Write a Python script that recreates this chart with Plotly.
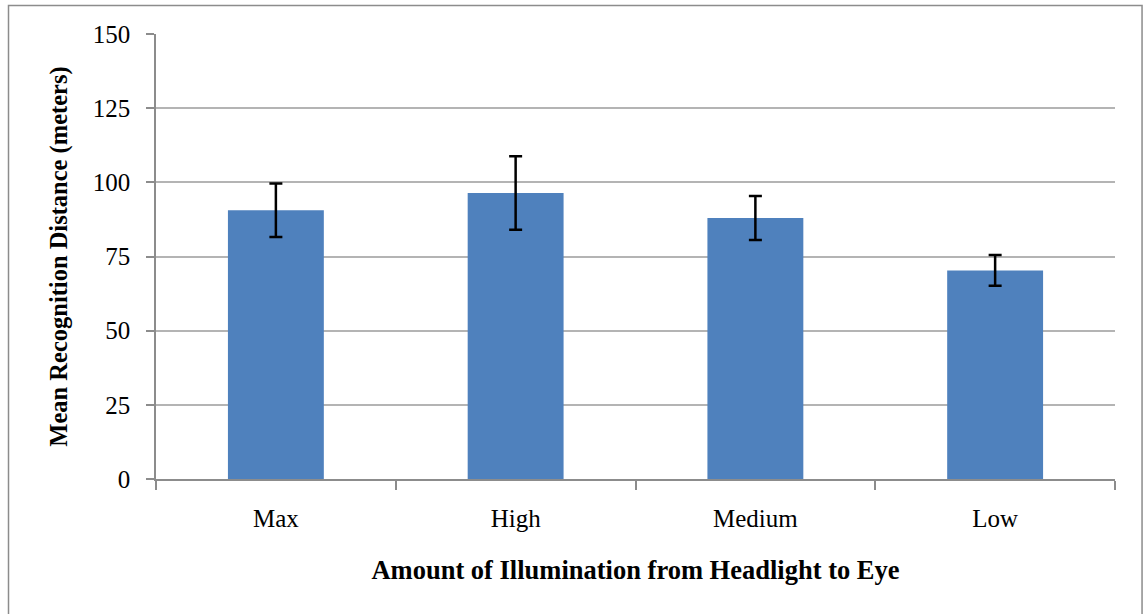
import plotly.graph_objects as go

categories = ["Max", "High", "Medium", "Low"]
means = [90.6, 96.4, 88.0, 70.3]
errors = [9.0, 12.4, 7.4, 5.2]
y_ticks = [0, 25, 50, 75, 100, 125, 150]

fig = go.Figure()
fig.add_trace(go.Bar(
    x=categories, y=means, width=0.4,
    marker=dict(color="#4F81BD", line=dict(width=0)),
    error_y=dict(type="data", array=errors, visible=True,
                 color="#000000", thickness=2.5, width=6.5),
    showlegend=False,
))

font_family = "Liberation Serif, Times New Roman, serif"

fig.update_layout(
    width=1143, height=614,
    margin=dict(l=156, r=28, t=34, b=135),
    paper_bgcolor="white", plot_bgcolor="white",
    font=dict(family=font_family, color="#000000"),
    bargap=0.6,
    xaxis=dict(
        type="category",
        showgrid=False,
        showline=True, linecolor="#8C8C8C", linewidth=1.5,
        ticks="outside", ticklen=9, tickcolor="#8C8C8C", tickwidth=1.5,
        tickson="boundaries",
        tickfont=dict(size=25, family=font_family),
        ticklabelstandoff=16,
        title=dict(text="<b>Amount of Illumination from Headlight to Eye</b>",
                   font=dict(size=26.5, family=font_family), standoff=30),
        fixedrange=True,
    ),
    yaxis=dict(
        range=[0, 150],
        tickvals=y_ticks,
        showgrid=True, gridcolor="#B4B4B4", gridwidth=1.5,
        showline=True, linecolor="#8C8C8C", linewidth=1.5,
        ticks="outside", ticklen=8, tickcolor="#8C8C8C", tickwidth=1.5,
        tickfont=dict(size=25, family=font_family),
        ticklabelstandoff=11,
        zeroline=False,
        title=dict(text="<b>Mean Recognition Distance (meters)</b>",
                   font=dict(size=24.5, family=font_family), standoff=18),
        fixedrange=True,
    ),
    shapes=[dict(type="rect", xref="paper", yref="paper",
                 x0=-0.1538, x1=1.0282, y0=-0.4, y1=1.064,
                 line=dict(color="#8C8C8C", width=1.5), layer="below")],
)

fig.write_html("out.html", config={"displayModeBar": False},
               post_script="document.body.style.margin='0px';")
